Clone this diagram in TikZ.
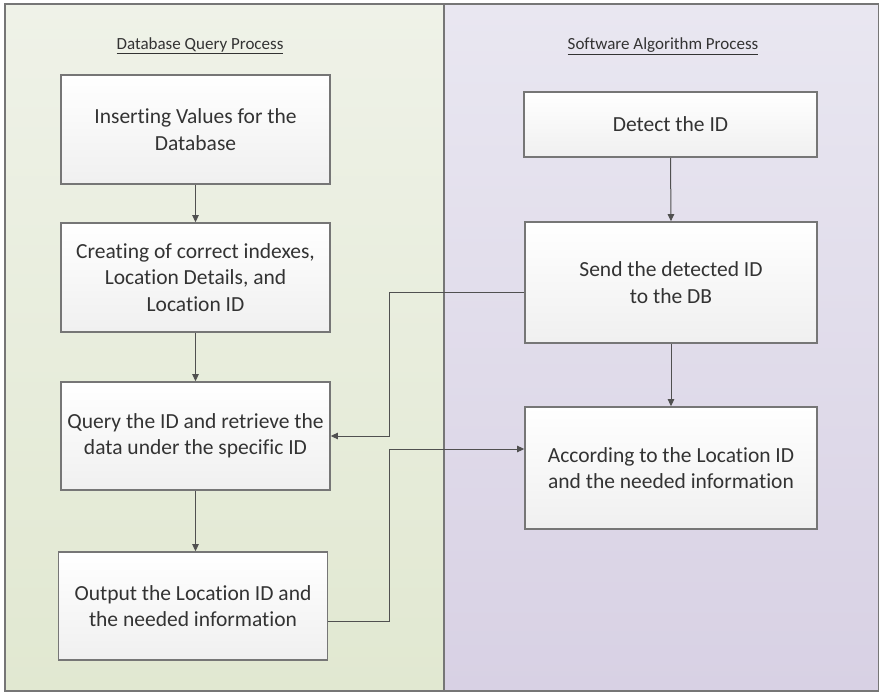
\documentclass[tikz,border=0pt]{standalone}
\usepackage{fontspec}
\setmainfont[Ligatures={NoCommon,NoRare,NoContextual}]{Carlito}
\usetikzlibrary{arrows.meta,calc}
\definecolor{dbtop}{HTML}{EFF2E8}
\definecolor{dbbot}{HTML}{E1E8D1}
\definecolor{swtop}{HTML}{E9E7F1}
\definecolor{swbot}{HTML}{D8D1E4}
\definecolor{boxline}{HTML}{767676}
\definecolor{wire}{HTML}{505050}
\definecolor{ink}{HTML}{333333}
\begin{document}
\begin{tikzpicture}[x=1pt,y=-1pt,
  lane/.style={draw=boxline,line width=1.3pt},
  stepbox/.style={draw=boxline,line width=1.7pt,top color=white,bottom color=black!6,
    text=ink,font=\fontsize{21.5}{26.5}\selectfont,align=center,inner sep=0pt},
  flow/.style={draw=wire,line width=1pt,-{Triangle[length=7pt,width=6.5pt]}},
  title/.style={text=ink,font=\fontsize{17}{20}\selectfont}]
\useasboundingbox (0,0) rectangle (879,693);

% swim lanes
\path[lane,top color=dbtop,bottom color=dbbot] (5,4) rectangle (444,691);
\path[lane,top color=swtop,bottom color=swbot] (444,4) rectangle (879,691);
\draw[boxline,line width=1.3pt] (444,4) -- (444,691);

\node[title] (dbtitle) at (200,46) {\underline{Database Query Process}};
\node[title] (swtitle) at (663,46) {\underline{Software Algorithm Process}};

% database query steps
\node[stepbox,minimum width=269pt,minimum height=109pt] (L1) at (195.5,129.5)
  {Inserting Values for the\\Database};
\node[stepbox,minimum width=269pt,minimum height=109pt] (L2) at (195.5,277.5)
  {Creating of correct indexes,\\Location Details, and\\Location ID};
\node[stepbox,minimum width=269pt,minimum height=108pt] (L3) at (195.5,436)
  {Query the ID and retrieve the\\data under the specific ID};
\node[stepbox,minimum width=269pt,minimum height=108pt] (L4) at (193,606)
  {Output the Location ID and\\the needed information};

% software algorithm steps
\node[stepbox,minimum width=293pt,minimum height=65pt] (R1) at (670.5,124.5)
  {Detect the ID};
\node[stepbox,minimum width=292pt,minimum height=121pt] (R2) at (671,282.5)
  {Send the detected ID\\to the DB};
\node[stepbox,minimum width=292pt,minimum height=122pt] (R3) at (671,468)
  {According to the Location ID\\and the needed information};

% flow inside each lane
\draw[flow] (L1.south) -- (L2.north);
\draw[flow] (L2.south) -- (L3.north);
\draw[flow] (L3.south) -- (L3.south |- L4.north);
\draw[flow] (R1.south) -- (R2.north);
\draw[flow] (R2.south) -- (R3.north);

% flow across the lanes
\coordinate (bendA) at (389,292);
\coordinate (bendB) at (389,621);
\draw[flow] (R2.west |- bendA) -- (bendA) |- (L3.east);
\draw[flow] (L4.east |- bendB) -- (bendB) |- ($(R3.west)+(0,-19)$);
\end{tikzpicture}
\end{document}
